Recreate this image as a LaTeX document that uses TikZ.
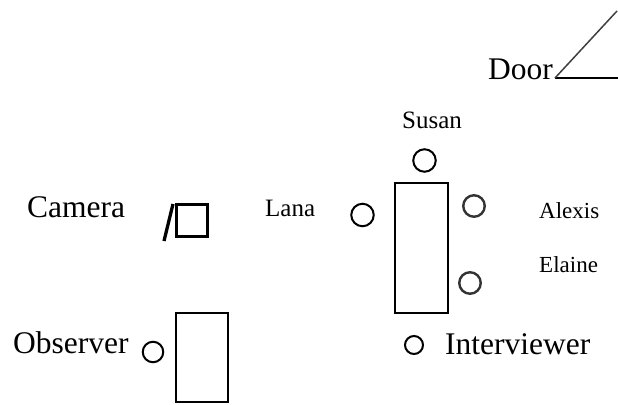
\documentclass[tikz,border=0pt]{standalone}
\usepackage{fontspec}
\setmainfont{Liberation Serif}
\usepackage{tikz}

\tikzset{
  bigtext/.style={inner sep=0pt, anchor=base west, font=\fontsize{31.5}{36}\selectfont},
  smalltext/.style={inner sep=0pt, anchor=base west, font=\fontsize{24}{28}\selectfont},
  person/.style={draw, circle, line width=2pt, inner sep=0pt, minimum size=#1},
  person/.default=22.5pt,
  desk/.style={draw, rectangle, line width=1.8pt, inner sep=0pt}
}

\begin{document}
\begin{tikzpicture}[x=1pt, y=-1pt]
\useasboundingbox (0,0) rectangle (618,404);

% door in the corner
\coordinate (hinge) at (555,78);
\coordinate (doorend) at (618,78);
\coordinate (doorleaf) at (617,11);
\draw[line width=1.6pt] (hinge) -- (doorend);
\draw[line width=1.5pt, black!75] (hinge) -- (doorleaf);
\node[bigtext] (door) at (488,79) {Door};

% table with the group round it
\node[desk, minimum width=53pt, minimum height=130pt] (table) at (421.5,248) {};
\node[person] (susan) at (424.5,160.5) {};
\node[person] (lana) at (362.5,215) {};
\node[person, draw=black!80, line width=2.4pt, minimum size=21.5pt] (alexis) at (474,206) {};
\node[person, draw=black!80, line width=2.4pt, minimum size=21.5pt] (elaine) at (470,283) {};
\node[person, minimum size=18pt] (interviewer) at (414,345) {};

\node[smalltext, font=\fontsize{25}{28}\selectfont] (susanlabel) at (402,128) {Susan};
\node[smalltext, font=\fontsize{25}{28}\selectfont] (lanalabel) at (265,216) {Lana};
\node[smalltext, font=\fontsize{23}{28}\selectfont] (alexislabel) at (539,218) {Alexis};
\node[smalltext, font=\fontsize{23}{28}\selectfont] (elainelabel) at (539,272) {Elaine};
\node[bigtext] (interviewerlabel) at (445,354) {Interviewer};

% camera on its stand
\node[draw, rectangle, line width=3.3pt, minimum width=31pt, minimum height=32pt, inner sep=0pt] (camera) at (192,220.5) {};
\coordinate (legtop) at (173,204);
\coordinate (legfoot) at (164,241);
\draw[line width=3.3pt] (legtop) -- (legfoot);
\node[bigtext] (cameralabel) at (27,217) {Camera};

% observer at the small desk
\node[desk, line width=2pt, minimum width=52pt, minimum height=89pt] (obsdesk) at (202,357.5) {};
\node[person, minimum size=20.5pt] (observer) at (153,352) {};
\node[bigtext] (observerlabel) at (13,353) {Observer};
\end{tikzpicture}
\end{document}
